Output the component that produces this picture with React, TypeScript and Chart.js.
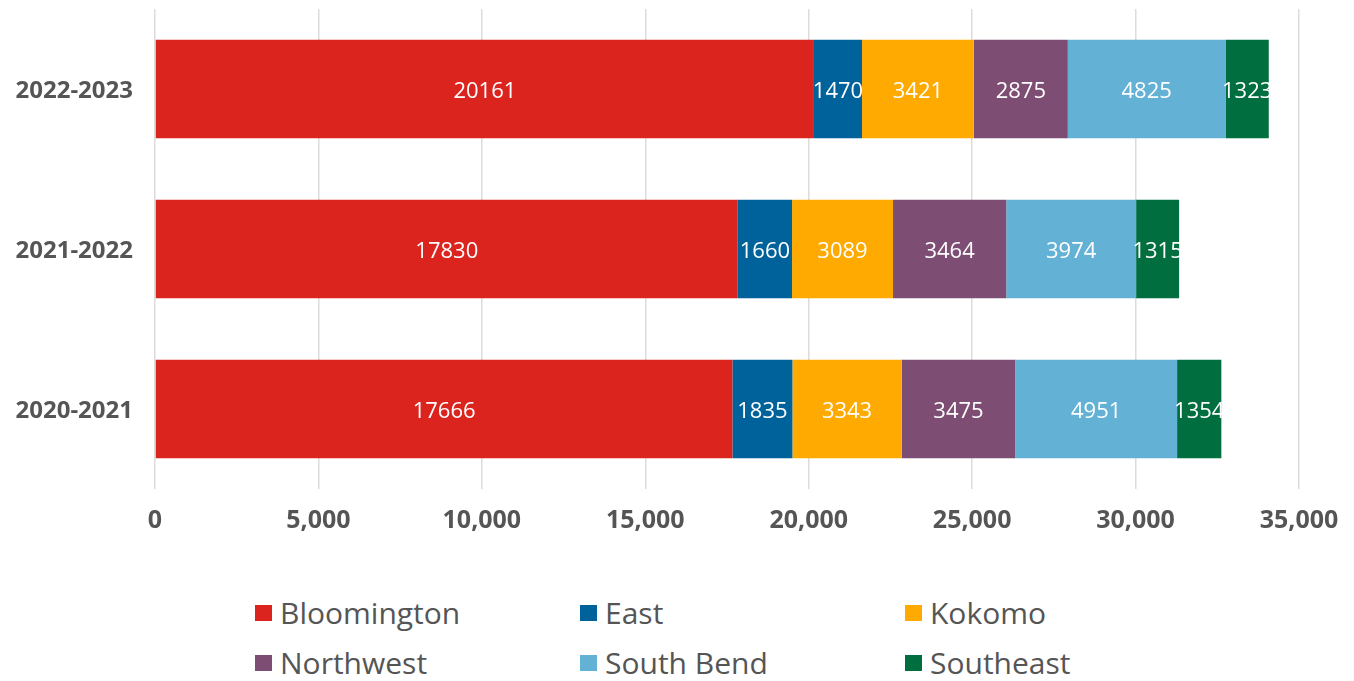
import React, { useEffect, useRef } from "react";
import { Chart, registerables } from "chart.js";

Chart.register(...registerables);

const categories = ["2022-2023", "2021-2022", "2020-2021"];
const seriesNames = ["Bloomington", "East", "Kokomo", "Northwest", "South Bend", "Southeast"];
const bloomington = [20161, 17830, 17666];
const east = [1470, 1660, 1835];
const kokomo = [3421, 3089, 3343];
const northwest = [2875, 3464, 3475];
const southBend = [4825, 3974, 4951];
const southeast = [1323, 1315, 1354];
const colors = ["#DC241F", "#00629B", "#FFAA00", "#7D4D73", "#63B1D4", "#006E3F"];
const xTicks = [0, 5000, 10000, 15000, 20000, 25000, 30000, 35000];

const seriesValues = [bloomington, east, kokomo, northwest, southBend, southeast];
const FONT = "'Open Sans', sans-serif";

const valueLabels = {
  id: "valueLabels",
  afterDatasetsDraw(chart: any) {
    const ctx = chart.ctx;
    ctx.save();
    ctx.fillStyle = "#ffffff";
    ctx.font = `22px ${FONT}`;
    ctx.textAlign = "center";
    ctx.textBaseline = "middle";
    chart.data.datasets.forEach((ds: any, di: number) => {
      const meta = chart.getDatasetMeta(di);
      meta.data.forEach((el: any, i: number) => {
        const { x, y, base } = el.getProps(["x", "y", "base"], true);
        ctx.fillText(String(ds.data[i]), (x + base) / 2, y + 3);
      });
    });
    ctx.restore();
  },
};

export default function App() {
  const ref = useRef<HTMLCanvasElement | null>(null);
  useEffect(() => {
    if (!ref.current) return;
    const chart = new Chart(ref.current, {
      type: "bar",
      data: {
        labels: categories,
        datasets: seriesNames.map((name, i) => ({
          label: name,
          data: seriesValues[i],
          backgroundColor: colors[i],
          borderWidth: 0,
          barPercentage: 1,
          categoryPercentage: 0.615,
        })),
      },
      options: {
        indexAxis: "y",
        animation: false,
        responsive: false,
        maintainAspectRatio: false,
        layout: { padding: { top: 9, right: 55, left: 0, bottom: 0 } },
        plugins: { legend: { display: false }, tooltip: { enabled: false } },
        scales: {
          x: {
            stacked: true,
            min: 0,
            max: 35000,
            afterBuildTicks(scale: any) {
              scale.ticks = xTicks.map((v) => ({ value: v }));
            },
            afterFit(scale: any) {
              scale.height = 60;
              scale.paddingRight = 0;
              scale.paddingLeft = 0;
            },
            grid: { color: "#dcdcdc", lineWidth: 1.5, drawTicks: false },
            border: { display: false },
            ticks: {
              padding: 17,
              color: "#555555",
              font: { family: FONT, size: 25, weight: "bold" },
              callback: (v: any) => Number(v).toLocaleString("en-US"),
            },
          },
          y: {
            stacked: true,
            afterFit(scale: any) {
              scale.width = 155;
              scale.paddingTop = 0;
              scale.paddingBottom = 0;
            },
            grid: { display: false, drawTicks: false },
            border: { display: false },
            ticks: {
              padding: 22,
              labelOffset: 2,
              color: "#555555",
              font: { family: FONT, size: 24, weight: "bold" },
            },
          },
        },
      },
      plugins: [valueLabels],
    } as any);
    return () => chart.destroy();
  }, []);

  return (
    <div style={{ position: "absolute", left: 0, top: 0, width: 1354, height: 681, background: "#fff", fontFamily: FONT }}>
      <canvas ref={ref} width={1354} height={549} style={{ display: "block" }} />
      <div style={{ position: "absolute", left: 255, top: 588, width: 1000 }}>
        {seriesNames.map((name, i) => (
          <div
            key={name}
            style={{
              position: "absolute",
              left: (i % 3) * 325,
              top: Math.floor(i / 3) * 50,
              display: "flex",
              alignItems: "center",
              height: 50,
              whiteSpace: "nowrap",
            }}
          >
            <span style={{ width: 17, height: 16, background: colors[i], display: "inline-block", marginRight: 8 }} />
            <span style={{ fontSize: 30, color: "#555555", lineHeight: "50px" }}>{name}</span>
          </div>
        ))}
      </div>
    </div>
  );
}
